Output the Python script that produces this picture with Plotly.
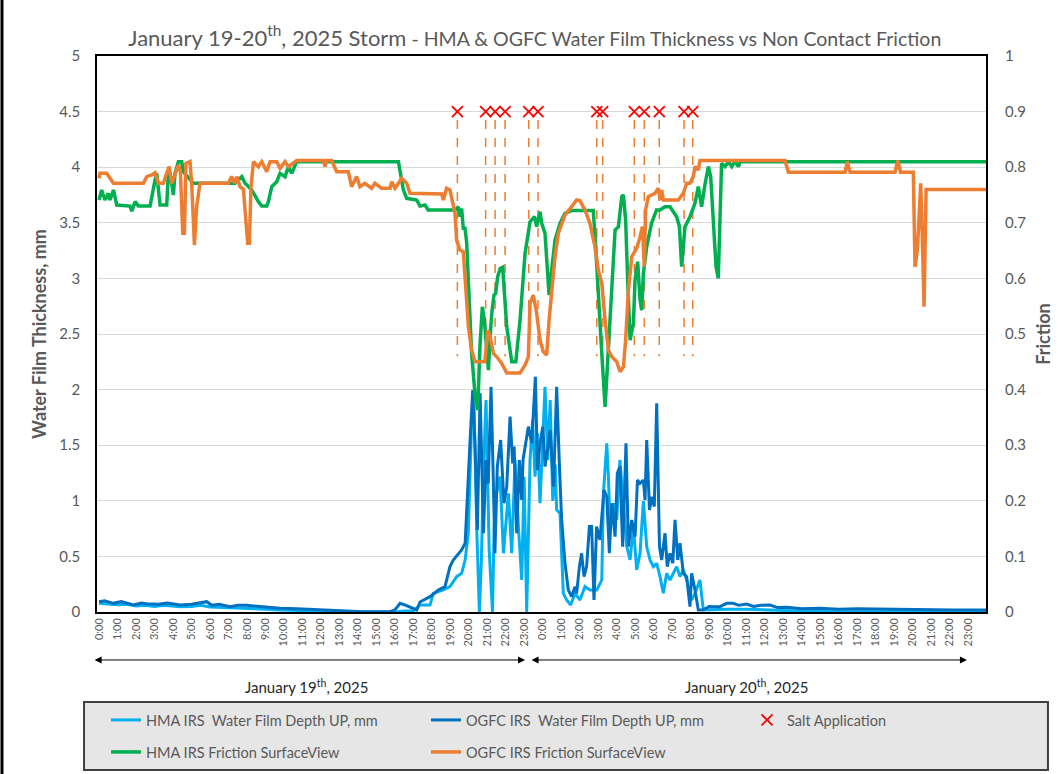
import plotly.graph_objects as go

# ---------------- data (hours since Jan 19 0:00) ----------------
hour_labels = [f"{h}:00" for h in range(24)] + [f"{h}:00" for h in range(24)]
hour_ticks = list(range(48))

salt_t = [19.38, 20.91, 21.42, 21.96, 23.24, 23.74, 26.92, 27.24, 28.95, 29.49, 30.30, 31.64, 32.11]
salt_level = 0.9
salt_line_top = 0.885
salt_line_bottom = 0.46

hma_fric_t = [0, 0.14, 0.32, 0.50, 0.59, 0.78, 0.96, 1.68, 1.77, 1.95, 2.13, 2.76, 3.03, 3.12, 3.30, 3.66, 3.75, 3.93,
              4.02, 4.11, 4.29, 4.47, 4.56, 5.10, 7.36, 7.72, 7.90, 8.26, 8.62, 8.80, 9.07, 9.16, 9.34, 9.61, 9.79,
              10.06, 10.24, 10.42, 10.69, 16.19, 16.46, 16.64, 17.18, 17.36, 17.63, 17.8, 19.25, 19.43, 19.52, 19.61,
              19.70, 19.79, 19.88, 19.97, 20.15, 20.33, 20.48, 20.60, 20.73, 20.84, 20.97, 21.06, 21.15, 21.24, 21.36,
              21.45, 21.56, 21.70, 21.83, 21.96, 22.05, 22.23, 22.32, 22.54, 22.77, 23.04, 23.31, 23.55, 23.67, 23.85,
              23.94, 24.12, 24.34, 24.48, 24.66, 24.93, 25.20, 25.56, 26.73, 26.86, 27.00, 27.19, 27.37, 27.55, 27.73,
              27.91, 28.09, 28.27, 28.36, 28.48, 28.59, 28.72, 28.90, 28.99, 29.13, 29.26, 29.35, 29.44, 29.62, 29.88,
              30.15, 30.34, 30.61, 30.88, 31.24, 31.39, 31.51, 31.69, 31.96, 32.23, 32.41, 32.59, 32.78, 32.96, 33.08,
              33.23, 33.37, 33.49, 33.59, 33.67, 33.85, 34.04, 34.22, 34.40, 34.58, 34.67, 47.97]
hma_fric = [0.741, 0.759, 0.741, 0.753, 0.741, 0.759, 0.732, 0.730, 0.721, 0.738, 0.730, 0.730, 0.777, 0.789, 0.732,
            0.732, 0.789, 0.771, 0.750, 0.789, 0.810, 0.810, 0.792, 0.771, 0.771, 0.783, 0.771, 0.759, 0.738, 0.730,
            0.730, 0.738, 0.765, 0.774, 0.789, 0.783, 0.801, 0.789, 0.810, 0.810, 0.759, 0.744, 0.741, 0.730, 0.732,
            0.723, 0.723, 0.729, 0.711, 0.726, 0.690, 0.690, 0.666, 0.597, 0.465, 0.393, 0.363, 0.477, 0.549, 0.525,
            0.465, 0.435, 0.495, 0.537, 0.570, 0.573, 0.603, 0.618, 0.620, 0.549, 0.513, 0.471, 0.450, 0.450, 0.525,
            0.645, 0.702, 0.711, 0.693, 0.720, 0.699, 0.681, 0.570, 0.615, 0.669, 0.699, 0.717, 0.722, 0.722, 0.657,
            0.585, 0.465, 0.369, 0.477, 0.597, 0.687, 0.693, 0.747, 0.750, 0.705, 0.597, 0.489, 0.519, 0.597, 0.630,
            0.561, 0.543, 0.609, 0.657, 0.699, 0.723, 0.723, 0.729, 0.729, 0.711, 0.693, 0.621, 0.693, 0.711, 0.735,
            0.765, 0.729, 0.771, 0.801, 0.783, 0.699, 0.621, 0.600, 0.729, 0.807, 0.801, 0.810, 0.801, 0.810, 0.801,
            0.810, 0.810]

ogfc_fric_t = [0, 0.05, 0.41, 0.59, 0.78, 2.40, 2.58, 2.85, 3.03, 3.21, 3.48, 3.66, 3.79, 3.93, 4.11, 4.29, 4.40, 4.53,
               4.62, 4.70, 4.92, 5.01, 5.16, 5.28, 5.46, 6.99, 7.17, 7.36, 7.45, 7.63, 7.81, 7.93, 8.04, 8.13, 8.22,
               8.35, 8.62, 8.80, 9.07, 9.25, 9.61, 9.79, 10.06, 10.24, 10.51, 10.69, 12.13, 12.22, 12.31, 12.58, 12.85,
               13.48, 13.66, 13.93, 14.11, 14.38, 14.74, 14.92, 15.28, 15.74, 15.83, 16.01, 16.37, 16.64, 16.82, 18.53,
               18.62, 18.80, 18.98, 19.25, 19.34, 19.52, 19.70, 19.83, 19.98, 20.15, 20.33, 20.87, 21.02, 21.15, 21.33,
               21.51, 21.78, 22.05, 22.77, 23.04, 23.22, 23.31, 23.49, 23.67, 23.85, 24.03, 24.21, 24.34, 24.48, 24.66,
               24.84, 25.20, 25.56, 25.83, 26.01, 26.28, 26.55, 26.82, 27.00, 27.19, 27.37, 27.55, 27.73, 28.00, 28.18,
               28.36, 28.48, 28.63, 28.81, 29.08, 29.26, 29.39, 29.49, 29.56, 29.71, 30.07, 30.25, 30.34, 30.43, 30.52,
               31.33, 31.60, 31.78, 31.96, 32.14, 32.23, 32.41, 32.50, 37.10, 37.28, 40.35, 40.47, 40.62, 43.05, 43.20,
               43.35, 44.04, 44.13, 44.26, 44.37, 44.44, 44.53, 44.62, 44.73, 47.97]
ogfc_fric = [0.780, 0.789, 0.789, 0.780, 0.771, 0.771, 0.783, 0.786, 0.790, 0.771, 0.771, 0.789, 0.801, 0.771, 0.789,
             0.804, 0.792, 0.681, 0.681, 0.807, 0.810, 0.771, 0.660, 0.729, 0.771, 0.771, 0.783, 0.771, 0.783, 0.765,
             0.760, 0.705, 0.663, 0.663, 0.765, 0.810, 0.801, 0.810, 0.792, 0.810, 0.810, 0.798, 0.810, 0.801, 0.807,
             0.812, 0.812, 0.801, 0.812, 0.812, 0.792, 0.792, 0.765, 0.783, 0.765, 0.771, 0.762, 0.771, 0.762, 0.762,
             0.774, 0.762, 0.780, 0.771, 0.753, 0.752, 0.741, 0.762, 0.759, 0.717, 0.669, 0.651, 0.648, 0.585, 0.513,
             0.471, 0.450, 0.450, 0.507, 0.495, 0.465, 0.459, 0.447, 0.430, 0.430, 0.444, 0.459, 0.555, 0.570, 0.537,
             0.489, 0.468, 0.462, 0.525, 0.579, 0.639, 0.681, 0.714, 0.729, 0.741, 0.740, 0.723, 0.699, 0.657, 0.615,
             0.591, 0.525, 0.471, 0.459, 0.450, 0.432, 0.441, 0.489, 0.579, 0.639, 0.654, 0.675, 0.693, 0.621, 0.723,
             0.747, 0.753, 0.762, 0.741, 0.759, 0.741, 0.741, 0.753, 0.771, 0.771, 0.783, 0.801, 0.795, 0.812, 0.812,
             0.791, 0.791, 0.810, 0.791, 0.791, 0.812, 0.791, 0.791, 0.621, 0.651, 0.741, 0.771, 0.669, 0.549, 0.760,
             0.760]

hma_depth_t = [0, 0.5, 1.0, 1.5, 2.0, 2.5, 3.0, 3.5, 4.38, 5.0, 5.5, 6.0, 7.0, 8.0, 9.0, 9.79, 11.0, 12.0, 13.0, 14.0,
               16.0, 16.5, 17.0, 17.36, 17.9, 18.08, 18.62, 18.98, 19.34, 19.61, 19.80, 19.97, 20.16, 20.28, 20.43,
               20.57, 20.68, 20.79, 20.93, 21.01, 21.10, 21.28, 21.37, 21.50, 21.69, 21.87, 22.01, 22.14, 22.32, 22.50,
               22.68, 22.86, 22.99, 23.13, 23.31, 23.45, 23.58, 23.71, 23.85, 24.03, 24.12, 24.27, 24.40, 24.54, 24.67,
               24.75, 24.93, 25.11, 25.29, 25.51, 25.74, 26.01, 26.28, 26.55, 26.92, 27.19, 27.28, 27.46, 27.55, 27.64,
               27.82, 28.00, 28.17, 28.35, 28.54, 28.72, 28.90, 29.08, 29.26, 29.44, 29.62, 29.80, 29.98, 30.16, 30.34,
               30.52, 30.70, 30.88, 31.06, 31.24, 31.42, 31.60, 31.78, 32.05, 32.23, 32.50, 32.68, 33.0, 34.0, 35.0,
               36.29, 37.0, 38.0, 40.0, 44.0, 47.97]
hma_depth = [0.078, 0.070, 0.065, 0.070, 0.055, 0.060, 0.050, 0.060, 0.048, 0.050, 0.060, 0.045, 0.040, 0.035, 0.025,
             0.018, 0.012, 0.010, 0.003, 0.0, 0.0, 0.010, 0.010, 0.063, 0.063, 0.168, 0.198, 0.228, 0.318, 0.348, 0.468,
             0.708, 1.757, 1.847, 0.738, 0.0, 0.468, 1.277, 1.907, 1.217, 0.558, 0.0, 0.768, 1.067, 1.217, 0.528, 0.828,
             1.067, 0.528, 1.367, 0.768, 0.288, 1.217, 0.0, 1.367, 1.727, 1.217, 1.607, 0.978, 1.757, 2.026, 1.367,
             1.907, 0.998, 1.327, 0.918, 0.888, 0.168, 0.108, 0.063, 0.168, 0.108, 0.228, 0.198, 0.198, 0.288, 1.067,
             1.517, 1.217, 0.768, 0.978, 0.828, 1.367, 0.998, 0.588, 0.468, 0.768, 0.378, 0.528, 0.998, 0.588, 0.468,
             0.408, 0.438, 0.318, 0.168, 0.348, 0.288, 0.348, 0.408, 0.318, 0.378, 0.288, 0.108, 0.168, 0.288, 0.018,
             0.020, 0.025, 0.025, 0.018, 0.012, 0.008, 0.003, 0.005, 0.005]

ogfc_depth_t = [0, 0.3, 0.77, 1.2, 1.86, 2.3, 2.58, 3.2, 3.7, 4.38, 5.0, 5.82, 6.1, 6.5, 7.09, 7.5, 7.99, 8.9, 9.79,
                10.7, 11.59, 12.49, 13.4, 14.29, 15.74, 16.0, 16.28, 16.6, 17.18, 17.36, 17.9, 18.35, 18.71, 18.98,
                19.16, 19.43, 19.61, 19.80, 19.92, 20.06, 20.21, 20.33, 20.46, 20.61, 20.79, 20.93, 21.05, 21.20, 21.32,
                21.41, 21.54, 21.72, 21.90, 22.05, 22.23, 22.37, 22.45, 22.59, 22.73, 22.86, 22.93, 23.22, 23.40, 23.60,
                23.71, 23.85, 24.00, 24.12, 24.25, 24.40, 24.58, 24.75, 24.90, 25.02, 25.20, 25.38, 25.56, 25.74, 25.83,
                25.98, 26.10, 26.23, 26.37, 26.52, 26.64, 26.77, 26.91, 27.09, 27.31, 27.46, 27.60, 27.73, 27.91, 28.03,
                28.17, 28.32, 28.50, 28.63, 28.81, 28.99, 29.12, 29.26, 29.44, 29.53, 29.62, 29.77, 29.90, 30.03, 30.16,
                30.31, 30.43, 30.61, 30.73, 30.88, 31.03, 31.15, 31.30, 31.42, 31.60, 31.78, 31.96, 32.05, 32.23, 32.41,
                32.68, 33.0, 33.23, 33.58, 33.95, 34.3, 34.6, 35.03, 35.4, 35.8, 36.29, 36.7, 37.19, 38.0, 38.99, 40.0,
                41.0, 42.6, 44.0, 45.5, 46.2, 47.97]
ogfc_depth = [0.093, 0.100, 0.078, 0.095, 0.063, 0.080, 0.075, 0.070, 0.080, 0.063, 0.070, 0.093, 0.060, 0.070, 0.048,
              0.060, 0.060, 0.045, 0.033, 0.030, 0.024, 0.018, 0.012, 0.003, 0.003, 0.018, 0.079, 0.060, 0.018, 0.090,
              0.138, 0.198, 0.228, 0.408, 0.468, 0.528, 0.558, 0.618, 1.067, 1.517, 1.996, 1.517, 0.738, 1.966, 0.708,
              1.367, 1.157, 2.026, 1.217, 0.528, 1.307, 1.547, 0.978, 1.127, 1.757, 1.337, 1.487, 0.708, 1.367, 1.007,
              1.367, 1.667, 1.517, 2.116, 1.277, 1.517, 1.667, 1.307, 1.457, 1.637, 1.127, 2.026, 1.307, 0.828, 0.438,
              0.198, 0.138, 0.228, 0.168, 0.408, 0.528, 0.318, 0.408, 0.768, 0.768, 0.108, 0.768, 0.648, 1.097, 1.037,
              0.528, 0.978, 0.678, 1.247, 1.307, 0.588, 1.517, 0.588, 0.828, 0.678, 1.187, 1.157, 1.187, 1.007, 1.547,
              0.918, 1.037, 0.948, 1.877, 0.588, 0.468, 0.708, 0.408, 0.528, 0.438, 0.828, 0.468, 0.618, 0.348, 0.318,
              0.048, 0.348, 0.200, 0.018, 0.020, 0.050, 0.048, 0.048, 0.078, 0.078, 0.060, 0.072, 0.050, 0.060, 0.063,
              0.040, 0.042, 0.030, 0.033, 0.025, 0.030, 0.025, 0.020, 0.020, 0.018, 0.018]

# ---------------- figure ----------------
FONT = "Lato"
GREY = "#595959"

fig = go.Figure()
fig.add_trace(go.Scatter(x=hma_depth_t, y=hma_depth, mode="lines", name="HMA IRS  Water Film Depth UP, mm",
                         line=dict(color="#00B0F0", width=3), yaxis="y", legend="legend"))
fig.add_trace(go.Scatter(x=ogfc_depth_t, y=ogfc_depth, mode="lines", name="OGFC IRS  Water Film Depth UP, mm",
                         line=dict(color="#0070C0", width=3), yaxis="y", legend="legend"))

# dashed salt application lines
sx, sy = [], []
for t in salt_t:
    sx += [t, t, None]
    sy += [salt_line_top, salt_line_bottom, None]
fig.add_trace(go.Scatter(x=sx, y=sy, mode="lines", line=dict(color="#ED7D31", width=1.5, dash="dash"),
                         yaxis="y2", showlegend=False, hoverinfo="skip"))

fig.add_trace(go.Scatter(x=hma_fric_t, y=hma_fric, mode="lines", name="HMA IRS Friction SurfaceView",
                         line=dict(color="#00B050", width=3.5), yaxis="y2", legend="legend2"))
fig.add_trace(go.Scatter(x=ogfc_fric_t, y=ogfc_fric, mode="lines", name="OGFC IRS Friction SurfaceView",
                         line=dict(color="#ED7D31", width=3.5), yaxis="y2", legend="legend2"))
fig.add_trace(go.Scatter(x=salt_t, y=[salt_level] * len(salt_t), mode="markers", name="Salt Application",
                         marker=dict(symbol="x-thin", size=11, line=dict(color="#FF0000", width=1.8)),
                         yaxis="y2", legend="legend3"))

legend_common = dict(orientation="h", xref="container", yref="container", x=106 / 1059, xanchor="left",
                     yanchor="middle", bgcolor="rgba(0,0,0,0)", font=dict(family=FONT, size=14.5, color=GREY),
                     entrywidth=275, entrywidthmode="pixels", itemwidth=30, tracegroupgap=0)

fig.update_layout(
    width=1059, height=774,
    margin=dict(l=97, r=73, t=56, b=162, autoexpand=False),
    paper_bgcolor="white", plot_bgcolor="white",
    font=dict(family=FONT, color=GREY),
    title=dict(
        text=("January 19-20<sup>th</sup>, 2025 Storm"
              "<span style='font-size:19.5px'> - HMA &amp; OGFC Water Film Thickness vs Non Contact Friction</span>"),
        font=dict(family=FONT, size=22, color=GREY),
        x=0.505, xanchor="center", xref="container", y=0.951, yanchor="middle", yref="container"),
    xaxis=dict(range=[-0.11, 47.97], tickvals=hour_ticks, ticktext=hour_labels, tickangle=-90,
               tickfont=dict(size=11, color=GREY), showgrid=False, zeroline=False,
               showline=True, linecolor="black", linewidth=1.5, mirror=True, ticks=""),
    yaxis=dict(range=[0, 5], dtick=0.5, tick0=0, gridcolor="#D9D9D9", gridwidth=1, zeroline=False,
               showline=True, linecolor="black", linewidth=1.5, mirror=True, ticks="",
               tickfont=dict(size=15, color=GREY), ticklabelstandoff=12,
               title=dict(text="<b>Water Film Thickness, mm</b>", font=dict(size=18, color=GREY), standoff=8)),
    yaxis2=dict(range=[0, 1], dtick=0.1, tick0=0, overlaying="y", side="right", showgrid=False, zeroline=False,
                ticks="", tickfont=dict(size=15, color=GREY), ticklabelstandoff=18,
                title=dict(text="<b>Friction</b>", font=dict(size=18, color=GREY), standoff=12)),
    legend=dict(legend_common, y=1 - 720 / 774),
    legend2=dict(legend_common, y=1 - 752 / 774),
    legend3=dict(legend_common, x=747 / 1059, y=1 - 720 / 774),
    showlegend=True,
)

# legend box and outer frame line
fig.add_shape(type="rect", xref="paper", yref="paper", x0=-0.0146, x1=1.0697, y0=-0.2842, y1=-0.1619,
              fillcolor="#E7E6E6", line=dict(color="#404040", width=2), layer="below")
fig.add_shape(type="line", xref="paper", yref="paper", x0=-0.1069, x1=-0.1069, y0=1.1007, y1=-0.2914,
              line=dict(color="black", width=3))

# day arrows and labels
for x0, x1 in [(-0.32, 23.04), (23.31, 46.94)]:
    fig.add_annotation(x=x1, y=-0.0863, xref="x", yref="paper", ax=x0, ay=0, axref="x", ayref="pixel",
                       text="", showarrow=True, arrowhead=2, startarrowhead=2, arrowside="end+start",
                       arrowsize=1.4, startarrowsize=1.4, arrowwidth=1, arrowcolor="black")
fig.add_annotation(x=11.2, y=-0.155, xref="x", yref="paper", text="January 19<sup>th</sup>, 2025",
                   showarrow=False, font=dict(family=FONT, size=15, color="#262626"))
fig.add_annotation(x=34.99, y=-0.155, xref="x", yref="paper", text="January 20<sup>th</sup>, 2025",
                   showarrow=False, font=dict(family=FONT, size=15, color="#262626"))

fig.write_html("out.html", config={"displayModeBar": False},
               post_script="document.body.style.margin='0px';")
